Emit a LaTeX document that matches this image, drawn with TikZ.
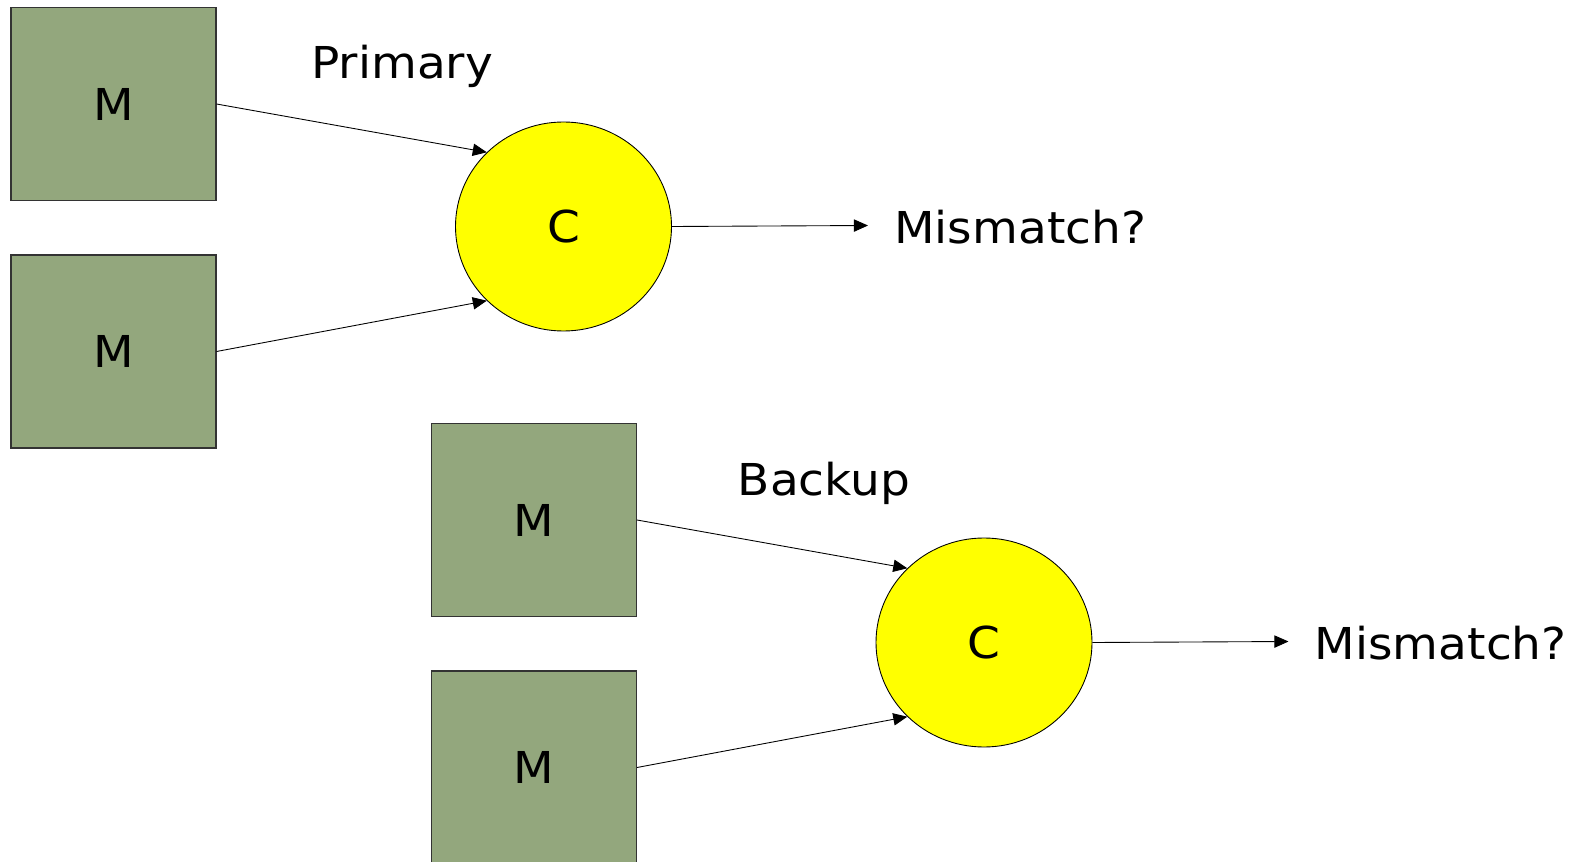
\documentclass[tikz,border=0pt]{standalone}
\usepackage{fontspec}
\setmainfont[FakeStretch=1.07]{DejaVu Sans}
\usetikzlibrary{shapes.geometric,arrows.meta}
\definecolor{mgreen}{RGB}{147,167,125}
\definecolor{cyellow}{RGB}{255,255,0}

\begin{document}
\begin{tikzpicture}[
    mbox/.style={draw=black!80,line width=0.6pt,fill=mgreen,minimum width=4.1cm,minimum height=3.86cm,inner sep=0pt,font=\fontsize{25}{30}\selectfont},
    cmp/.style={ellipse,draw,line width=0.5pt,fill=cyellow,minimum width=4.32cm,minimum height=4.18cm,inner sep=0pt,font=\fontsize{25}{30}\selectfont},
    lbl/.style={anchor=base west,inner sep=0pt,font=\fontsize{25}{30}\selectfont},
    feed/.style={line width=0.5pt,-{Triangle[length=8pt,width=7pt]}},
    ]
    \useasboundingbox (0,0) rectangle (31.6,-17.24);
    % one group of two modules and a comparator, shifted for the backup
    \foreach \grp/\sx/\sy/\name/\lx in {pri/0/0/Primary/6.22, bak/8.41/-8.32/Backup/6.34} {
      \begin{scope}[shift={(\sx,\sy)}]
        \node[mbox] (\grp-m1) at (2.27,-2.08) {M};
        \node[mbox] (\grp-m2) at (2.27,-7.03) {M};
        \node[cmp] (\grp-c) at (11.27,-4.53) {C};
        \coordinate (\grp-out) at (17.36,-4.51);
        \node[lbl] (\grp-txt) at (17.88,-4.87) {Mismatch?};
        \node[lbl] (\grp-lbl) at (\lx,-1.58) {\name};
        \draw[feed] (\grp-m1.east) -- (\grp-c.north west);
        \draw[feed] (\grp-m2.east) -- (\grp-c.south west);
        \draw[feed] (\grp-c.east) -- (\grp-out);
      \end{scope}
    }
\end{tikzpicture}
\end{document}
